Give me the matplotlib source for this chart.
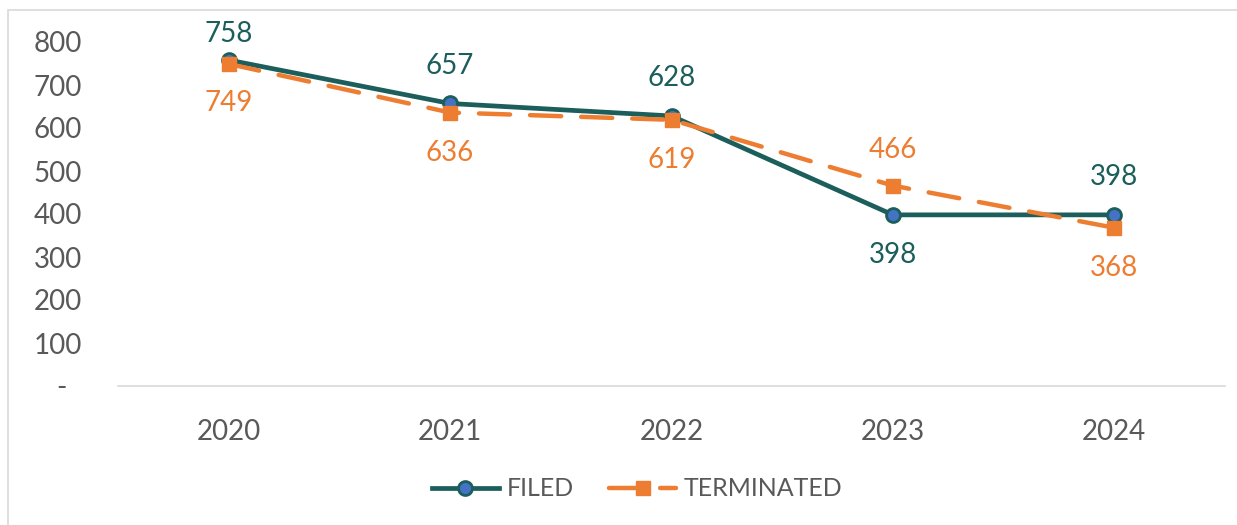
import matplotlib
matplotlib.use("Agg")
import matplotlib.pyplot as plt
from matplotlib.patches import Rectangle

years = ["2020", "2021", "2022", "2023", "2024"]
filed = [758, 657, 628, 398, 398]
terminated = [749, 636, 619, 466, 368]
yticks = [0, 100, 200, 300, 400, 500, 600, 700, 800]
ytick_labels = ["-", "100", "200", "300", "400", "500", "600", "700", "800"]

# label offsets in points (styling)
filed_off = [19, 27, 27, -29, 27]
term_off = [-28, -29, -29, 26, -29]

plt.rcParams['font.family'] = ['Lato', 'DejaVu Sans']

teal = "#1B5E5B"
blue = "#4472C4"
orange = "#ED7D31"
grey = "#595959"

fig = plt.figure(figsize=(12.37, 5.25), dpi=100)
fig.patches.append(Rectangle((8/1237, -0.1), 1.2, (525-10)/525 + 0.1, transform=fig.transFigure,
                             fill=False, edgecolor="#D9D9D9", linewidth=1.2))
ax = fig.add_axes([118/1237, 1-386/525, (1225-118)/1237, (386-42)/525])

x = list(range(len(years)))
ax.plot(x, filed, color=teal, linewidth=3.4, marker="o", markersize=10,
        markerfacecolor=blue, markeredgecolor=teal, markeredgewidth=2, label="FILED", zorder=3)
ax.plot(x, terminated, color=orange, linewidth=3.2, linestyle=(0, (7, 4.5)), dash_capstyle="round",
        marker="s", markersize=10, markerfacecolor=orange, markeredgecolor=orange,
        label="TERMINATED", zorder=4)

for i, (v, off) in enumerate(zip(filed, filed_off)):
    ax.annotate(str(v), (i, v), xytext=(0, off), textcoords="offset points",
                ha="center", va="center", color=teal, fontsize=20)
for i, (v, off) in enumerate(zip(terminated, term_off)):
    ax.annotate(str(v), (i, v), xytext=(0, off), textcoords="offset points",
                ha="center", va="center", color=orange, fontsize=20)

ax.set_xlim(-0.5, len(years) - 0.5)
ax.set_ylim(0, 800)
ax.set_xticks(x)
ax.set_xticklabels(years)
ax.set_yticks(yticks)
ax.set_yticklabels([l if l != "-" else "-  " for l in ytick_labels])
ax.tick_params(axis="both", length=0, labelsize=20, colors=grey)
ax.tick_params(axis="x", pad=24)
ax.tick_params(axis="y", pad=26)
for s in ["top", "right", "left"]:
    ax.spines[s].set_visible(False)
ax.spines["bottom"].set_color("#D9D9D9")
ax.spines["bottom"].set_linewidth(1.2)
ax.set_facecolor("none")

leg = fig.legend(*ax.get_legend_handles_labels(), loc="center", bbox_to_anchor=(637/1237, 1-489/525),
                 ncol=2, frameon=False, fontsize=18, handlelength=2.7, columnspacing=1.4,
                 handletextpad=0.3)
for t in leg.get_texts():
    t.set_color(grey)

fig.savefig("out.png", dpi=100)
